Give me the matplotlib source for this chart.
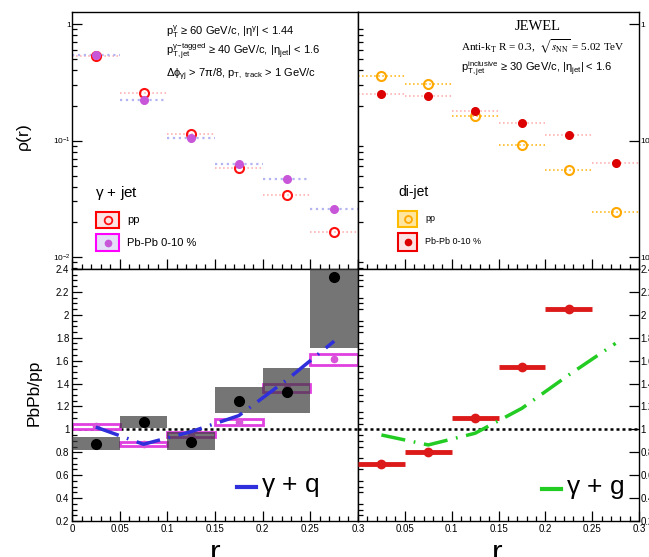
"""
Профили струй rho(r) и отношения PbPb/pp (gamma+jet и di-jet)
"""
import matplotlib
matplotlib.use('Agg')
import matplotlib.pyplot as plt
import numpy as np
from matplotlib.patches import Rectangle
from matplotlib.lines import Line2D
from matplotlib.ticker import FixedLocator, FixedFormatter, MultipleLocator, LogLocator, NullFormatter

plt.rcParams['font.family'] = ['Liberation Sans', 'DejaVu Sans']
plt.rcParams['mathtext.fontset'] = 'custom'
plt.rcParams['mathtext.rm'] = 'Liberation Sans'
plt.rcParams['mathtext.it'] = 'Liberation Sans:italic'
plt.rcParams['mathtext.bf'] = 'Liberation Sans:bold'
plt.rcParams['mathtext.sf'] = 'Liberation Sans'

# Данные
bin_lo = [0.00, 0.05, 0.10, 0.15, 0.20, 0.25]
bin_hi = [0.05, 0.10, 0.15, 0.20, 0.25, 0.30]
r_mid = [0.025, 0.075, 0.125, 0.175, 0.225, 0.275]

gj_pp = [0.527, 0.258, 0.114, 0.0582, 0.0342, 0.0163]
gj_pbpb = [0.544, 0.223, 0.105, 0.063, 0.0467, 0.026]
dj_pp = [0.356, 0.303, 0.162, 0.0915, 0.0555, 0.0243]
dj_pbpb = [0.252, 0.242, 0.180, 0.142, 0.111, 0.0637]

data_ratio = [0.875, 1.061, 0.892, 1.250, 1.326, 2.333]
data_sys_lo = [0.820, 1.015, 0.817, 1.140, 1.140, 1.708]
data_sys_hi = [0.931, 1.117, 0.974, 1.372, 1.533, 2.60]

jewel_gj_ratio = [1.027, 0.872, 0.952, 1.061, 1.360, 1.611]
jewel_gj_lo = [1.006, 0.855, 0.931, 1.035, 1.326, 1.565]
jewel_gj_hi = [1.044, 0.892, 0.974, 1.088, 1.396, 1.656]

gamma_q = [1.02, 0.87, 0.98, 1.12, 1.43, 1.77]
gamma_g = [0.951, 0.864, 0.966, 1.184, 1.475, 1.751]
dj_ratio = [0.700, 0.805, 1.097, 1.542, 2.048]

W, H = 649, 557


def frac(x0, y0, x1, y1):
    """Пиксели -> доли фигуры для add_axes"""
    return [x0 / W, 1 - y1 / H, (x1 - x0) / W, (y1 - y0) / H]


def fx(x):
    return x / W


def fy(y):
    return 1 - y / H


fig = plt.figure(figsize=(W / 100, H / 100), dpi=100)

ax_tl = fig.add_axes(frac(72, 12, 358, 269))
ax_tr = fig.add_axes(frac(358, 12, 639, 269))
ax_bl = fig.add_axes(frac(72, 269, 358, 521))
ax_br = fig.add_axes(frac(358, 269, 639, 521))

for ax in [ax_tl, ax_tr, ax_bl, ax_br]:
    ax.set_xlim(0, 0.3)
    ax.xaxis.set_major_locator(MultipleLocator(0.05))
    ax.xaxis.set_minor_locator(MultipleLocator(0.01))
    ax.tick_params(which='both', direction='in', width=0.9, labelsize=7, pad=2)
    ax.tick_params(which='major', length=7)
    ax.tick_params(which='minor', length=3.5)
    for sp in ax.spines.values():
        sp.set_linewidth(1.0)

# Верхние панели: логарифмическая шкала
for ax in [ax_tl, ax_tr]:
    ax.set_yscale('log')
    ax.set_ylim(0.0079, 1.27)
    ax.yaxis.set_major_locator(FixedLocator([0.01, 0.1, 1]))
    ax.yaxis.set_major_formatter(FixedFormatter([r'$10^{-2}$', r'$10^{-1}$', '1']))
    ax.yaxis.set_minor_locator(LogLocator(base=10, subs=np.arange(2, 10)))
    ax.yaxis.set_minor_formatter(NullFormatter())
    ax.tick_params(axis='x', labelbottom=False)
    ax.tick_params(axis='y', labelsize=6, pad=1)

ax_tl.tick_params(axis='y', left=True, right=False)
ax_tr.tick_params(axis='y', left=False, right=True, labelleft=False, labelright=True)

# gamma + jet
ax_tl.hlines(gj_pp, bin_lo, bin_hi, colors='#ffa8a8', linestyles=':', lw=1.1)
ax_tl.hlines(gj_pbpb, bin_lo, bin_hi, colors='#b4b4f2', linestyles=':', lw=1.6)
ax_tl.plot(r_mid, gj_pp, 'o', mfc='none', mec='#ff1010', mew=1.5, ms=6.5)
ax_tl.plot(r_mid, gj_pbpb, 'o', color='#c856d8', ms=5.5)

# di-jet
ax_tr.hlines(dj_pp, bin_lo, bin_hi, colors='#ffb000', linestyles=':', lw=1.1)
ax_tr.hlines(dj_pbpb, bin_lo, bin_hi, colors='#ffa8a8', linestyles=':', lw=1.1)
ax_tr.plot(r_mid, dj_pp, 'o', mfc='none', mec='#ffa800', mew=1.5, ms=6.5)
ax_tr.plot(r_mid, dj_pbpb, 'o', color='#dd0000', ms=5.5)

# Нижние панели: отношения
for ax in [ax_bl, ax_br]:
    ax.set_ylim(0.2, 2.4)
    ax.yaxis.set_major_locator(MultipleLocator(0.2))
    ax.yaxis.set_minor_locator(MultipleLocator(0.05))
    ax.yaxis.set_major_formatter(matplotlib.ticker.FormatStrFormatter('%g'))
    ax.axhline(1, color='black', lw=1.8, linestyle=(0, (1.2, 1.2)), zorder=1)

ax_br.tick_params(axis='y', left=False, right=True, labelleft=False, labelright=True, pad=1)
ax_br.set_xticks([0.05, 0.1, 0.15, 0.2, 0.25, 0.3])
ax_br.xaxis.set_major_formatter(matplotlib.ticker.FormatStrFormatter('%g'))
ax_bl.xaxis.set_major_formatter(matplotlib.ticker.FormatStrFormatter('%g'))

# JEWEL gamma+jet: рамки
ax_bl.bar(r_mid, np.subtract(jewel_gj_hi, jewel_gj_lo), bottom=jewel_gj_lo, width=0.05,
          facecolor='white', edgecolor='#e040e0', linewidth=2, zorder=2)
ax_bl.errorbar(r_mid, jewel_gj_ratio, yerr=0.012, fmt='o', color='#d855d8', ms=4.5,
               elinewidth=1.2, capsize=0, zorder=3)
# данные: систематика (серые)
ax_bl.bar(r_mid, np.subtract(data_sys_hi, data_sys_lo), bottom=data_sys_lo, width=0.05,
          facecolor='#3a3a3a', alpha=0.7, edgecolor='none', zorder=4)
ax_bl.plot(r_mid, data_ratio, 'o', color='black', ms=7, zorder=5)
ax_bl.plot(r_mid, gamma_q, color='#2f2fdc', lw=2.5, dashes=(7, 2.5, 0.5, 2.5), zorder=6)

ax_br.errorbar(r_mid[:5], dj_ratio, xerr=0.025, fmt='o', color='#dd1a1a', ms=6,
               elinewidth=3.5, capsize=0, zorder=4)
ax_br.plot(r_mid, gamma_g, color='#22cc22', lw=2.5, dashes=(7, 2.5, 0.5, 2.5), zorder=5)

# Подписи осей
fig.text(fx(25), fy(138), r'$\mathrm{\rho}$(r)', rotation=90, ha='center', va='center', fontsize=12.5)
fig.text(fx(34), fy(393), 'PbPb/pp', rotation=90, ha='center', va='center', fontsize=12.5)
fig.text(fx(215), fy(539), 'r', ha='center', va='top', fontsize=23)
fig.text(fx(497), fy(539), 'r', ha='center', va='top', fontsize=23)

# Текст в верхней левой панели
fig.text(fx(166), fy(32), r'$\mathrm{p}_{\mathrm{T}}^{\mathrm{\gamma}}$ ≥ 60 GeV/c, $|\mathrm{\eta}^{\mathrm{\gamma}}|$ < 1.44',
         ha='left', va='center', fontsize=8)
fig.text(fx(166), fy(52), r'$\mathrm{p}_{\mathrm{T,jet}}^{\mathrm{\gamma\!-\!tagged}}$ ≥ 40 GeV/c, $|\mathrm{\eta}_{\mathrm{jet}}|$ < 1.6',
         ha='left', va='center', fontsize=8)
fig.text(fx(166), fy(75), r'$\mathrm{\Delta\phi}_{\mathrm{\gamma j}}$ > 7π/8, $\mathrm{p}_{\mathrm{T,\ track}}$ > 1 GeV/c',
         ha='left', va='center', fontsize=8)

# Текст в верхней правой панели
fig.text(fx(538), fy(27), 'JEWEL', ha='center', va='center', fontsize=10.5,
         family='Liberation Serif')
fig.text(fx(461), fy(47), r'Anti-k$_{\rm T}$ R = 0.3,  $\sqrt{s_{\rm NN}}$ = 5.02 TeV',
         ha='left', va='center', fontsize=8, family='Liberation Serif', math_fontfamily='stix')
fig.text(fx(461), fy(69), r'$\mathrm{p}_{\mathrm{T,jet}}^{\mathrm{inclusive}}$ ≥ 30 GeV/c, $|\mathrm{\eta}_{\mathrm{jet}}|$ < 1.6',
         ha='left', va='center', fontsize=8)


def legend_entry(x0, y0, x1, y1, edge, face, marker_kw, label, fs):
    """Рамка с маркером + подпись, координаты в пикселях"""
    fig.add_artist(Rectangle((fx(x0), fy(y1)), (x1 - x0) / W, (y1 - y0) / H,
                             transform=fig.transFigure, facecolor=face,
                             edgecolor=edge, linewidth=1.5))
    fig.add_artist(Line2D([fx((x0 + x1) / 2)], [fy((y0 + y1) / 2)], marker='o',
                          linestyle='none', transform=fig.transFigure, **marker_kw))
    fig.text(fx(x1 + 8), fy((y0 + y1) / 2), label, ha='left', va='center', fontsize=fs)


fig.text(fx(95), fy(193), r'$\mathrm{\gamma}$ + jet', ha='left', va='center', fontsize=11)
legend_entry(96, 212, 119, 228, '#ff0000', '#fde4e4',
             dict(mfc='none', mec='#ff1010', mew=1.3, ms=5.5), 'pp', 8)
legend_entry(96, 234, 119, 251, '#ff00ff', '#e4e0f8',
             dict(color='#c856d8', ms=4.5), 'Pb-Pb 0-10 %', 8)

fig.text(fx(398), fy(192), 'di-jet', ha='left', va='center', fontsize=10)
legend_entry(398, 211, 417, 227, '#ffbb00', '#ffe6a0',
             dict(mfc='none', mec='#ffa800', mew=1.3, ms=5), 'pp', 6.5)
legend_entry(398, 233, 417, 251, '#ee0000', '#fde4e4',
             dict(color='#dd0000', ms=4.5), 'Pb-Pb 0-10 %', 6.5)

# Легенды кривых
fig.add_artist(Line2D([fx(237), fx(256)], [fy(487), fy(487)], color='#2f2fdc', lw=3,
                      transform=fig.transFigure))
fig.text(fx(261), fy(487), r'$\mathrm{\gamma}$ + q', ha='left', va='center', fontsize=19)
fig.add_artist(Line2D([fx(542), fx(561)], [fy(489), fy(489)], color='#22cc22', lw=3,
                      transform=fig.transFigure))
fig.text(fx(566), fy(489), r'$\mathrm{\gamma}$ + g', ha='left', va='center', fontsize=19)

plt.savefig('out.png', dpi=100)
